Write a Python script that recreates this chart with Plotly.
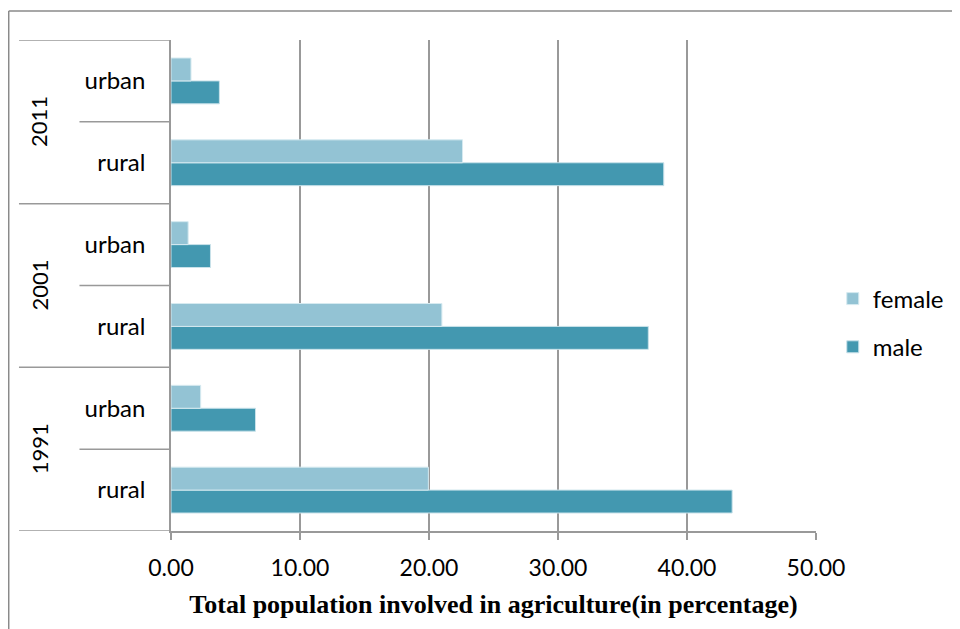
import plotly.graph_objects as go

# ---- data ----
years = ["1991", "1991", "2001", "2001", "2011", "2011"]
areas = ["rural", "urban", "rural", "urban", "rural", "urban"]
male = [43.5, 6.55, 37.0, 3.06, 38.2, 3.75]
female = [19.95, 2.3, 21.0, 1.33, 22.6, 1.55]
year_labels = ["1991", "2001", "2011"]
x_ticks = [0, 10, 20, 30, 40, 50]

cats = [f"{y} {a}" for y, a in zip(years, areas)]

MALE_C = "#4398B0"
FEMALE_C = "#93C3D4"
GRID = "#999999"
FONT = "Lato"

fig = go.Figure()
fig.add_trace(go.Bar(y=cats, x=male, orientation="h", name="male",
                     marker=dict(color=MALE_C, line=dict(color="#c9e2ea", width=1)),
                     legendgroup="m", legendrank=2))
fig.add_trace(go.Bar(y=cats, x=female, orientation="h", name="female",
                     marker=dict(color=FEMALE_C, line=dict(color="#d6eaf0", width=1)),
                     legendgroup="f", legendrank=1))

shapes = []
# year dividers (full label column) at boundaries
for b in [-0.5, 1.5, 3.5, 5.5]:
    shapes.append(dict(type="line", xref="paper", yref="y", x0=-0.2357, x1=0,
                       y0=b, y1=b, line=dict(color=GRID, width=1.5)))
# inner dividers (urban/rural column)
for b in [0.5, 2.5, 4.5]:
    shapes.append(dict(type="line", xref="paper", yref="y", x0=-0.1419, x1=0,
                       y0=b, y1=b, line=dict(color=GRID, width=1.5)))
# outer chart border (top and left)
shapes.append(dict(type="line", xref="paper", yref="paper", x0=-0.2516, x1=1.3,
                   y0=1.0591, y1=1.0591, line=dict(color="#8a8a8a", width=1.5)))
shapes.append(dict(type="line", xref="paper", yref="paper", x0=-0.2516, x1=-0.2516,
                   y0=1.0591, y1=-0.3, line=dict(color="#8a8a8a", width=1.5)))

annotations = []
for i, yl in enumerate(year_labels):
    annotations.append(dict(text=yl, xref="paper", yref="y", x=-0.2045, y=2 * i + 0.5,
                            showarrow=False, textangle=-90,
                            font=dict(family=FONT, size=22, color="#000000"),
                            xanchor="center", yanchor="middle"))

fig.update_layout(
    width=960, height=629,
    margin=dict(l=163, r=152, t=32, b=106),
    paper_bgcolor="white", plot_bgcolor="white",
    barmode="group", bargap=0.44, bargroupgap=0,
    font=dict(family=FONT, size=23, color="#000000"),
    showlegend=True,
    legend=dict(x=1.026, y=0.4236, xanchor="left", yanchor="middle",
                traceorder="grouped", tracegroupgap=14,
                font=dict(family=FONT, size=24, color="#000000"),
                itemwidth=30, bgcolor="rgba(0,0,0,0)"),
    shapes=shapes,
    annotations=annotations,
)

fig.update_xaxes(range=[0, 50], tickvals=x_ticks, tickformat=".2f",
                 showgrid=True, gridcolor=GRID, gridwidth=1.5,
                 showline=True, linecolor=GRID, linewidth=1.5,
                 ticks="outside", ticklen=7, tickcolor=GRID, tickwidth=1.5,
                 ticklabelstandoff=9,
                 zeroline=False,
                 tickfont=dict(family=FONT, size=23, color="#000000"),
                 title=dict(text="<b>Total population involved in agriculture(in percentage)</b>",
                            font=dict(family="Liberation Serif", size=26, color="#000000"),
                            standoff=14))

fig.update_yaxes(type="category", categoryorder="array", categoryarray=cats,
                 tickvals=cats, ticktext=areas, range=[-0.5, 5.5],
                 showgrid=False, showline=True, linecolor=GRID, linewidth=1.5,
                 ticks="", ticklabelstandoff=19,
                 tickfont=dict(family=FONT, size=24, color="#000000"))

fig.write_html("out.html")
